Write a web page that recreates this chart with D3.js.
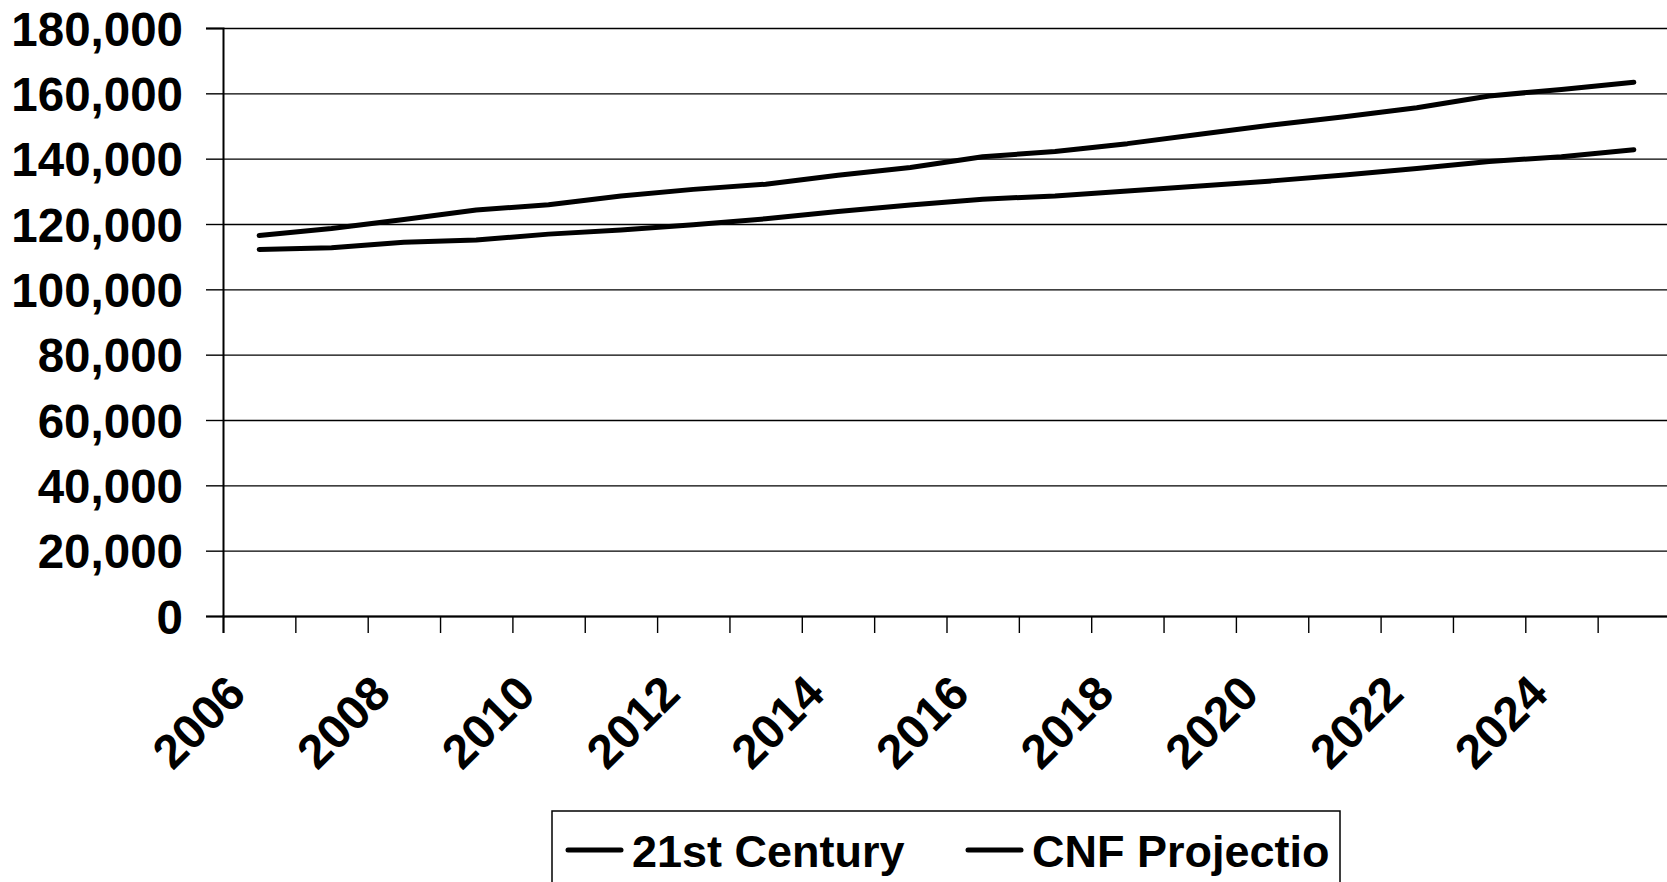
<!DOCTYPE html>
<html>
<head>
<meta charset="utf-8">
<script src="https://cdn.jsdelivr.net/npm/d3@7"></script>
<style>
  body { margin: 0; background: #fff; }
  svg { display: block; }
  .chart text { font-family: Arial, "Liberation Sans", sans-serif; font-weight: bold; fill: #000; }
</style>
</head>
<body>
<div id="chart"></div>
<script>

var years = [2006, 2007, 2008, 2009, 2010, 2011, 2012, 2013, 2014, 2015,
             2016, 2017, 2018, 2019, 2020, 2021, 2022, 2023, 2024, 2025]

var seriesNames = ["21st Century", "CNF Projectio"]

var century21 = [116500, 118600, 121400, 124300, 125900, 128600, 130600, 132200, 134900, 137300,
                 140600, 142200, 144600, 147500, 150300, 152800, 155600, 159200, 161200, 163400]

var cnfProjection = [112200, 112700, 114400, 115100, 116900, 118200, 119800, 121600, 123800, 125800,
                     127600, 128600, 130100, 131600, 133200, 135000, 137000, 139100, 140600, 142700]

var yTicks = [0, 20000, 40000, 60000, 80000, 100000, 120000, 140000, 160000, 180000]

var xLabels = ["2006", "2008", "2010", "2012", "2014", "2016", "2018", "2020", "2022", "2024"]


function lineChart(id){

	var W = 1667, H = 882
	var margin = {top: 28, left: 223}
		,width  = 1447
		,height = 588

	var svg = d3.select('#'+id)
		.append('svg')
		.attr('width', W)
		.attr('height', H)
		.attr('class', 'chart')

	var x = d3.scaleBand()
		.domain(years)
		.range([margin.left, margin.left + width])

	// edges of the categories, for the tick marks
	var xEdge = d3.scaleLinear()
		.domain([0, years.length])
		.range([margin.left, margin.left + width])

	var y = d3.scaleLinear()
		.domain([0, 180000])
		.range([margin.top + height, margin.top])

	// gridlines
	svg.append("g")
		.attr("class", "grid")
		.attr("transform", "translate(" + margin.left + ",0)")
		.call(d3.axisLeft(y)
			.tickValues(yTicks)
			.tickSize(-width)
			.tickFormat(""))
		.call(function(g){
			g.select(".domain").remove()
			g.selectAll("line").attr("stroke", "#000").attr("stroke-width", 1.4)
		})

	// y axis
	svg.append("g")
		.attr("transform", "translate(" + margin.left + ",0)")
		.call(d3.axisLeft(y)
			.tickValues(yTicks)
			.tickSize(17)
			.tickPadding(23)
			.tickFormat(d3.format(",")))
		.call(function(g){
			g.select(".domain").attr("stroke", "#000").attr("stroke-width", 2)
			g.selectAll(".tick line").attr("stroke", "#000").attr("stroke-width", 1.4)
			g.selectAll(".tick text")
				.attr("font-size", 47.5)
				.attr("dy", "0.36em")
		})

	// x axis
	svg.append("g")
		.attr("transform", "translate(0," + (margin.top + height) + ")")
		.call(d3.axisBottom(xEdge)
			.tickValues(d3.range(years.length + 1))
			.tickSize(17)
			.tickFormat(""))
		.call(function(g){
			g.select(".domain").attr("stroke", "#000").attr("stroke-width", 2)
			g.selectAll(".tick line").attr("stroke", "#000").attr("stroke-width", 1.4)
		})

	svg.append("g")
		.selectAll("text")
		.data(xLabels)
		.enter().append("text")
			.attr("text-anchor", "end")
			.attr("font-size", 48)
			.attr("transform", function(d){
				var cx = x(+d) + x.bandwidth()/2 - 11
				var cy = margin.top + height + 80
				return "translate(" + cx + "," + cy + ")rotate(-45)"
			})
			.text(function(d){ return d })

	var line = d3.line()
		.x(function(d, i){ return x(years[i]) + x.bandwidth()/2 })
		.y(function(d){ return y(d) })

	svg.selectAll(".series")
		.data([century21, cnfProjection])
		.enter().append("path")
			.attr("class", "series")
			.attr("d", line)
			.attr("fill", "none")
			.attr("stroke", "#000")
			.attr("stroke-width", 5)
			.attr("stroke-linecap", "round")
			.attr("stroke-linejoin", "round")

	// legend
	var legend = svg.append("g")
		.attr("transform", "translate(552,811)")

	legend.append("rect")
		.attr("x", 0)
		.attr("y", 0)
		.attr("width", 788)
		.attr("height", 100)
		.attr("fill", "#fff")
		.attr("stroke", "#000")
		.attr("stroke-width", 1.5)

	var itemX = [16, 416]
	var item = legend.selectAll(".item")
		.data(seriesNames)
		.enter().append("g")
			.attr("class", "item")
			.attr("transform", function(d, i){ return "translate(" + itemX[i] + ",0)" })

	item.append("line")
		.attr("x1", 0)
		.attr("x2", 53)
		.attr("y1", 39)
		.attr("y2", 39)
		.attr("stroke", "#000")
		.attr("stroke-width", 5)
		.attr("stroke-linecap", "round")

	item.append("text")
		.attr("x", 64)
		.attr("y", 56)
		.attr("font-size", 45)
		.text(function(d){ return d })
}

lineChart("chart")

</script>
</body>
</html>
